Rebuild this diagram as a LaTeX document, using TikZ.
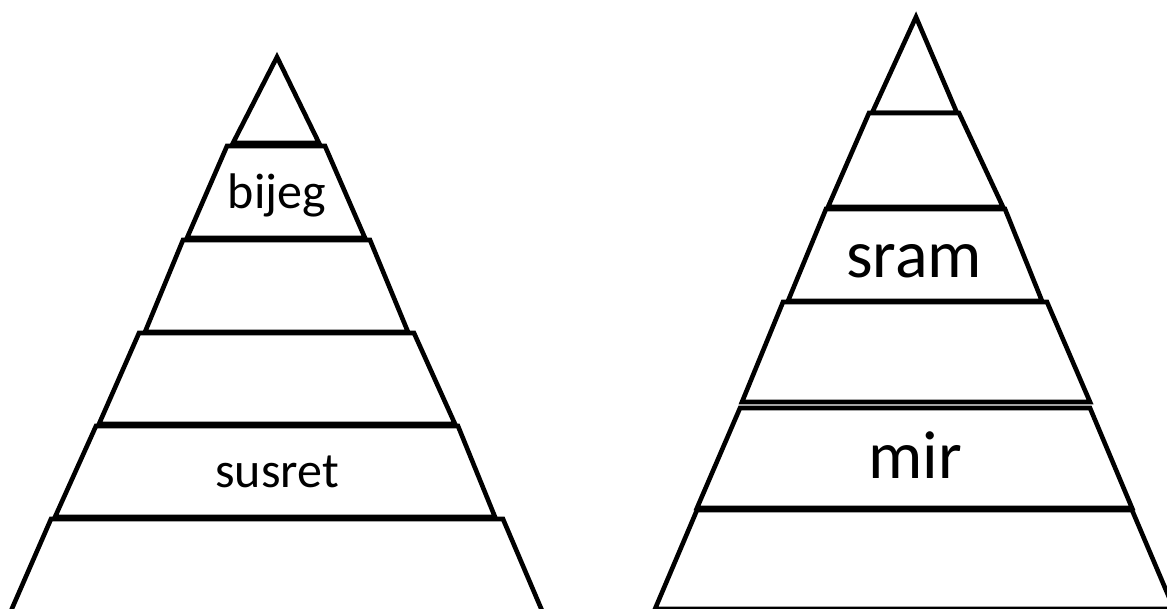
\documentclass[tikz,border=0pt]{standalone}
\usepackage{fontspec}
\setmainfont{Carlito}
\begin{document}
\begin{tikzpicture}[x=1pt,y=-1pt,
  layer/.style={draw=black,line width=4.6pt,line join=miter,fill=white},
  smalltxt/.style={anchor=base,inner sep=0pt,font=\fontsize{50}{60}\selectfont},
  bigtxt/.style={anchor=base,inner sep=0pt,font=\fontsize{68}{80}\selectfont}]
\useasboundingbox (0,0) rectangle (1167,608);
\clip (0,0) rectangle (1167,608);
% left pyramid
\draw[layer] (277,57) -- (319,143) -- (233,143) -- cycle;
\draw[layer] (227,146) -- (325,146) -- (365,238) -- (187,238) -- cycle;
\draw[layer] (183,240) -- (370,240) -- (408,332) -- (145,332) -- cycle;
\draw[layer] (139,333) -- (414,333) -- (455,424) -- (99,424) -- cycle;
\draw[layer] (96,426) -- (458,426) -- (495,517) -- (55,517) -- cycle;
\draw[layer] (51,519) -- (503,519) -- (546,620) -- (7,620) -- cycle;
% right pyramid
\draw[layer] (916,17) -- (957,113) -- (872,113) -- cycle;
\draw[layer] (869,113) -- (959,113) -- (1003,207) -- (828,207) -- cycle;
\draw[layer] (826,209) -- (1005,209) -- (1042,301) -- (788,301) -- cycle;
\draw[layer] (783,302) -- (1047,302) -- (1090,402) -- (742,402) -- cycle;
\draw[layer] (740,408) -- (1090,408) -- (1132,508) -- (697,508) -- cycle;
\draw[layer] (697,510) -- (1132,510) -- (1174,609) -- (655,609) -- cycle;
% labels
\node[smalltxt] (bijeg) at (277,208) {bijeg};
\node[smalltxt] (susret) at (277,487) {susret};
\node[bigtxt] (sram) at (914,277) {sram};
\node[bigtxt] (mir) at (915,478) {mir};
\end{tikzpicture}
\end{document}
